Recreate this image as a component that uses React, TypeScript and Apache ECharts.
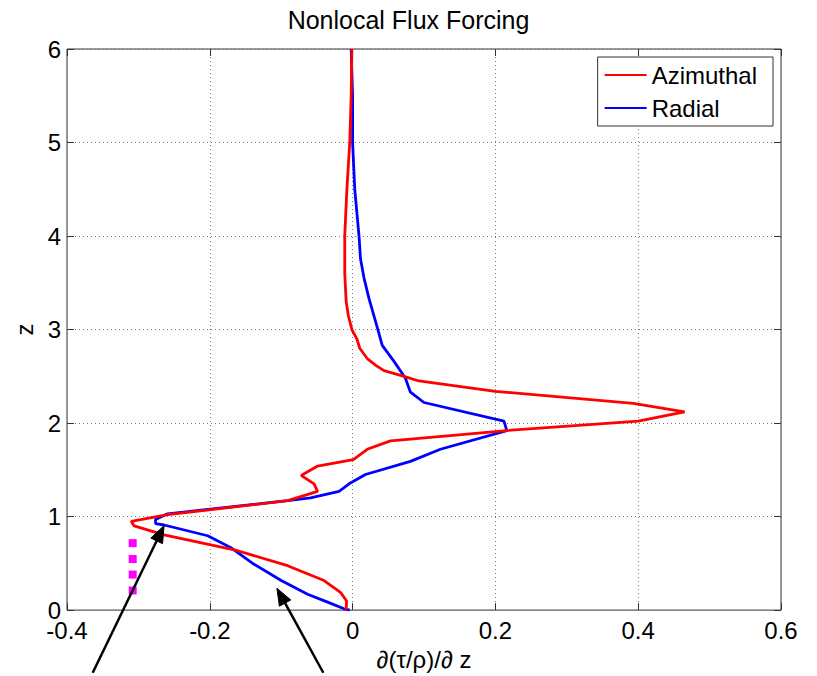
import React, { useEffect, useRef } from "react";
import * as echarts from "echarts";

// Azimuthal (red) profile: depth z and forcing value
const azimuthalZ = [6.0, 5.5, 5.0, 4.5, 4.0, 3.6, 3.3, 3.15, 3.0, 2.9, 2.8, 2.69, 2.62, 2.56, 2.5, 2.45, 2.34, 2.21, 2.12, 2.02, 1.92, 1.81, 1.72, 1.61, 1.54, 1.44, 1.35, 1.27, 1.17, 1.02, 0.95, 0.9, 0.805, 0.635, 0.475, 0.316, 0.19, 0.1, 0.0];
const azimuthalX = [-0.001, -0.002, -0.004, -0.008, -0.011, -0.011, -0.009, -0.006, -0.001, 0.006, 0.01, 0.0205, 0.032, 0.044, 0.072, 0.093, 0.2, 0.393, 0.465, 0.4, 0.216, 0.053, 0.0205, 0.001, -0.049, -0.072, -0.054, -0.049, -0.091, -0.259, -0.31, -0.306, -0.264, -0.161, -0.091, -0.04, -0.017, -0.0085, -0.009];

// Radial (blue) profile
const radialZ = [6.0, 5.5, 5.0, 4.5, 4.0, 3.76, 3.55, 3.33, 3.01, 2.83, 2.66, 2.48, 2.33, 2.22, 2.02, 1.92, 1.72, 1.59, 1.45, 1.36, 1.27, 1.2, 1.17, 1.03, 0.97, 0.925, 0.91, 0.795, 0.67, 0.49, 0.316, 0.17, 0.085, 0.014, 0.0];
const radialX = [-0.002, 0.0, 0.0, 0.003, 0.009, 0.011, 0.016, 0.023, 0.035, 0.0415, 0.058, 0.074, 0.081, 0.1, 0.212, 0.216, 0.123, 0.081, 0.018, -0.003, -0.019, -0.059, -0.091, -0.259, -0.276, -0.276, -0.264, -0.203, -0.171, -0.138, -0.1, -0.063, -0.035, -0.012, -0.004];

// Magenta markers
const markerX = [-0.308, -0.308, -0.308, -0.308];
const markerZ = [0.21, 0.38, 0.546, 0.716];

// Annotation arrows (data coordinates): tail -> tip
const arrowTails = [[-0.364, -0.67], [-0.041, -0.67]];
const arrowTips = [[-0.264, 0.904], [-0.106, 0.234]];

const xTicks = { min: -0.4, max: 0.6, interval: 0.2 };
const yTicks = { min: 0, max: 6, interval: 1 };

const FONT = "Liberation Sans, Arial, Helvetica, sans-serif";

export default function App() {
  const ref = useRef<HTMLDivElement>(null);
  useEffect(() => {
    if (!ref.current) return;
    const chart = echarts.init(ref.current, undefined, { renderer: "svg" });
    const axisColor = "#333";
    const tickStyle = { show: true, inside: true, length: 7, lineStyle: { color: axisColor, width: 1 } };
    const gridLine = { show: true, lineStyle: { color: "#777", type: [1, 3] as any, width: 1 } };
    const noLine = { show: false, onZero: false };
    const fmtX = (v: number) => String(Math.round(v * 10) / 10);
    chart.setOption({
      animation: false,
      backgroundColor: "#fff",
      title: {
        text: "Nonlocal Flux Forcing",
        left: "center",
        top: 2,
        textStyle: { fontFamily: FONT, fontSize: 25, fontWeight: "normal", color: "#000" },
      },
      legend: {
        orient: "vertical",
        right: 44,
        top: 57,
        backgroundColor: "#fff",
        borderColor: axisColor,
        borderWidth: 1,
        padding: [6, 16, 6, 7],
        itemGap: 9,
        itemWidth: 42,
        itemHeight: 2,
        icon: "rect",
        textStyle: { fontFamily: FONT, fontSize: 24, color: "#000" },
        data: ["Azimuthal", "Radial"],
      },
      grid: { left: 67, right: 36, top: 49, bottom: 63, show: true, borderColor: axisColor, borderWidth: 1, backgroundColor: "#fff" },
      xAxis: [
        {
          type: "value",
          ...xTicks,
          name: "\u2202(\u03c4/\u03c1)/\u2202 z",
          nameLocation: "middle",
          nameGap: 30,
          nameTextStyle: { fontFamily: FONT, fontSize: 24, color: "#000" },
          axisLine: noLine,
          axisTick: tickStyle,
          axisLabel: { fontFamily: FONT, fontSize: 24, lineHeight: 20, color: "#000", margin: 10, formatter: fmtX },
          splitLine: gridLine,
        },
        {
          type: "value",
          position: "top",
          ...xTicks,
          axisLine: noLine,
          axisTick: tickStyle,
          axisLabel: { show: false },
          splitLine: { show: false },
        },
      ],
      yAxis: [
        {
          type: "value",
          position: "left",
          ...yTicks,
          name: "z",
          nameLocation: "middle",
          nameGap: 27,
          nameTextStyle: { fontFamily: FONT, fontSize: 24, color: "#000" },
          axisLine: noLine,
          axisTick: tickStyle,
          axisLabel: { fontFamily: FONT, fontSize: 24, lineHeight: 18, color: "#000", margin: 6 },
          splitLine: gridLine,
        },
        {
          type: "value",
          position: "right",
          ...yTicks,
          axisLine: noLine,
          axisTick: tickStyle,
          axisLabel: { show: false },
          splitLine: { show: false },
        },
      ],
      series: [
        {
          name: "Radial",
          type: "line",
          symbol: "none",
          color: "#0000ff",
          lineStyle: { color: "#0000ff", width: 2.8 },
          data: radialX.map((x, i) => [x, radialZ[i]]),
          z: 2,
        },
        {
          name: "Azimuthal",
          type: "line",
          symbol: "none",
          color: "#ff0000",
          lineStyle: { color: "#ff0000", width: 2.8 },
          data: azimuthalX.map((x, i) => [x, azimuthalZ[i]]),
          z: 3,
        },
        {
          name: "markers",
          type: "scatter",
          symbol: "rect",
          symbolSize: 8,
          itemStyle: { color: "#ff00ff", opacity: 1 },
          data: markerX.map((x, i) => [x, markerZ[i]]),
          z: 4,
        },
      ],
    });

    const graphics: any[] = [];
    arrowTails.forEach((tail, i) => {
      const p0 = chart.convertToPixel({ gridIndex: 0 }, tail) as number[];
      const p1 = chart.convertToPixel({ gridIndex: 0 }, arrowTips[i]) as number[];
      const dx = p1[0] - p0[0];
      const dy = p1[1] - p0[1];
      const len = Math.sqrt(dx * dx + dy * dy);
      const ux = dx / len;
      const uy = dy / len;
      const headLen = 17;
      const headW = 6.5;
      const bx = p1[0] - ux * headLen;
      const by = p1[1] - uy * headLen;
      graphics.push({
        type: "line",
        shape: { x1: p0[0], y1: p0[1], x2: bx + ux * 2, y2: by + uy * 2 },
        style: { stroke: "#000", lineWidth: 2.5 },
        z: 10,
      });
      graphics.push({
        type: "polygon",
        shape: {
          points: [
            [p1[0], p1[1]],
            [bx - uy * headW, by + ux * headW],
            [bx + uy * headW, by - ux * headW],
          ],
        },
        style: { fill: "#000", stroke: "#000", lineWidth: 1 },
        z: 10,
      });
    });
    chart.setOption({ graphic: graphics });

    return () => chart.dispose();
  }, []);
  return (
    <div
      ref={ref}
      style={{ position: "fixed", left: 0, top: 0, width: 817, height: 676, background: "#fff" }}
    />
  );
}
